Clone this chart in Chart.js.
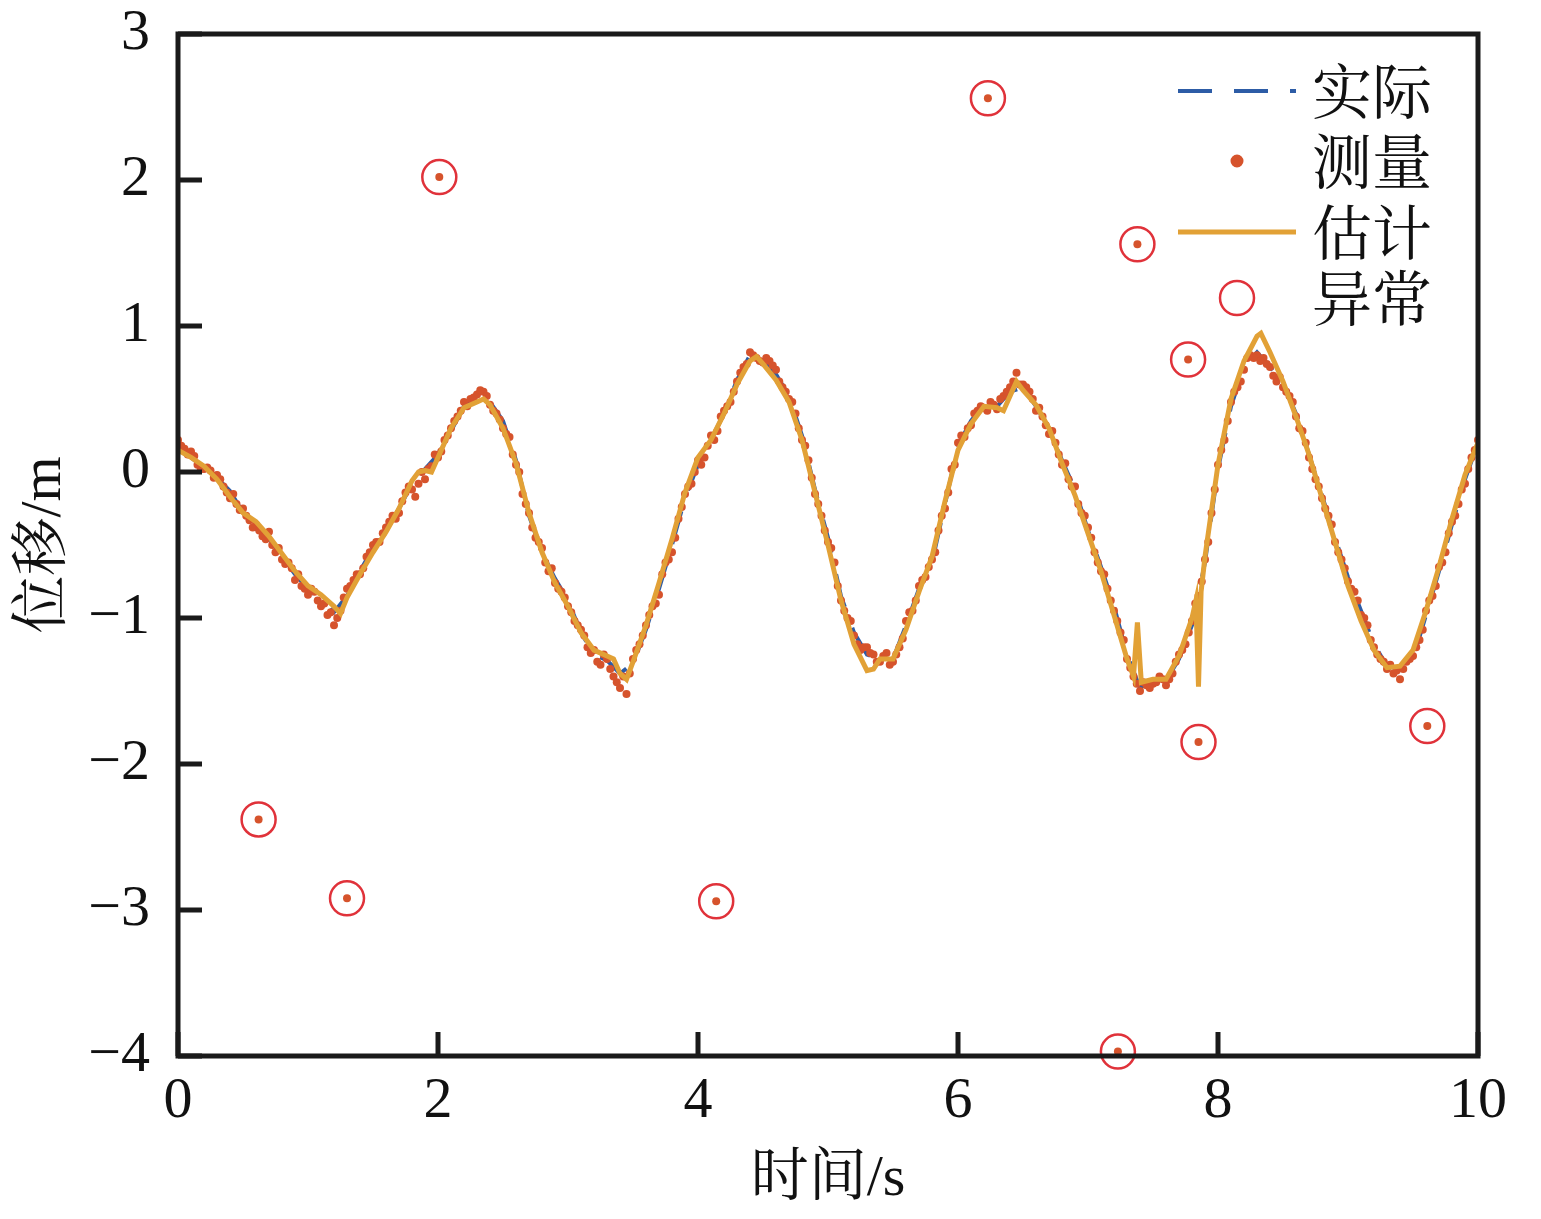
<!DOCTYPE html>
<html>
<head>
<meta charset="utf-8">
<script src="https://cdn.jsdelivr.net/npm/chart.js@4.4.0/dist/chart.umd.min.js"></script>
<style>
  body { margin: 0; background: #fff; }
  canvas { display: block; }
</style>
</head>
<body>
<canvas id="grafico" width="1541" height="1219"></canvas>
<script>
// 采样间隔 (s)
const pasoReal = 0.1;
const pasoMedida = 0.05;

// 实际位移, t = 0 .. 10 每 0.1 s
const real = [
  0.17, 0.10, 0.03, -0.04, -0.13, -0.28, -0.39, -0.45, -0.58, -0.70,
  -0.80, -0.88, -0.96, -0.85, -0.68, -0.52, -0.40, -0.25, -0.08, 0.02,
  0.12, 0.28, 0.45, 0.50, 0.48, 0.35, 0.08, -0.30, -0.55, -0.73,
  -0.88, -1.10, -1.25, -1.29, -1.38, -1.31, -1.08, -0.80, -0.50, -0.18,
  0.05, 0.22, 0.40, 0.63, 0.80, 0.77, 0.67, 0.52, 0.25, -0.12,
  -0.45, -0.85, -1.10, -1.25, -1.28, -1.28, -1.05, -0.80, -0.62, -0.22,
  0.18, 0.35, 0.46, 0.45, 0.55, 0.58, 0.45, 0.30, 0.08, -0.12,
  -0.40, -0.65, -0.92, -1.25, -1.48, -1.42, -1.43, -1.28, -1.05, -0.62,
  0.02, 0.45, 0.72, 0.82, 0.72, 0.61, 0.40, 0.12, -0.16, -0.45,
  -0.72, -0.95, -1.18, -1.33, -1.35, -1.28, -0.98, -0.68, -0.36, -0.05,
  0.20
];

// 测量值, t = 0 .. 10 每 0.05 s
const medida = [
  0.22, 0.16, 0.14, 0.05, 0.02, 0.01, -0.02, -0.10, -0.18, -0.22,
  -0.25, -0.33, -0.36, -0.44, -0.41, -0.55, -0.60, -0.62, -0.74, -0.78,
  -0.84, -0.82, -0.92, -0.98, -1.05, -0.95, -0.80, -0.74, -0.70, -0.58,
  -0.50, -0.48, -0.38, -0.30, -0.28, -0.14, -0.12, -0.08, -0.05, 0.04,
  0.10, 0.22, 0.30, 0.38, 0.48, 0.50, 0.53, 0.55, 0.46, 0.40,
  0.30, 0.24, 0.05, -0.15, -0.28, -0.45, -0.52, -0.68, -0.76, -0.82,
  -0.92, -1.02, -1.08, -1.20, -1.22, -1.32, -1.28, -1.40, -1.48, -1.52,
  -1.28, -1.18, -1.05, -0.92, -0.84, -0.62, -0.55, -0.32, -0.15, -0.08,
  0.08, 0.10, 0.25, 0.28, 0.42, 0.48, 0.62, 0.72, 0.82, 0.78,
  0.75, 0.76, 0.70, 0.58, 0.50, 0.40, 0.22, 0.08, -0.15, -0.30,
  -0.48, -0.62, -0.88, -1.00, -1.12, -1.22, -1.20, -1.25, -1.30, -1.24,
  -1.30, -1.20, -1.02, -0.95, -0.78, -0.72, -0.60, -0.40, -0.25, 0.02,
  0.20, 0.24, 0.32, 0.42, 0.44, 0.48, 0.43, 0.52, 0.58, 0.68,
  0.60, 0.55, 0.42, 0.38, 0.26, 0.20, 0.05, -0.05, -0.10, -0.28,
  -0.38, -0.55, -0.68, -0.80, -0.95, -1.10, -1.28, -1.40, -1.50, -1.46,
  -1.45, -1.40, -1.46, -1.38, -1.25, -1.18, -1.02, -0.85, -0.60, -0.28,
  0.05, 0.22, 0.48, 0.58, 0.70, 0.80, 0.80, 0.78, 0.72, 0.62,
  0.58, 0.52, 0.38, 0.28, 0.10, -0.05, -0.18, -0.30, -0.48, -0.60,
  -0.75, -0.82, -0.98, -1.05, -1.20, -1.28, -1.35, -1.38, -1.42, -1.30,
  -1.26, -1.15, -0.95, -0.85, -0.65, -0.55, -0.34, -0.22, -0.08, 0.10,
  0.22
];

// 测量值 (第二组), t = 0.025 .. 9.975 每 0.05 s
const medida2 = [
  0.18, 0.12, 0.11, 0.02, 0.03, -0.04, -0.05, -0.14, -0.15, -0.26,
  -0.30, -0.38, -0.40, -0.46, -0.50, -0.52, -0.63, -0.66, -0.70, -0.80,
  -0.80, -0.88, -0.90, -0.96, -1.00, -0.86, -0.78, -0.70, -0.66, -0.55,
  -0.48, -0.42, -0.34, -0.32, -0.20, -0.10, -0.17, 0.00, 0.02, 0.12,
  0.14, 0.25, 0.35, 0.42, 0.45, 0.51, 0.56, 0.52, 0.42, 0.36,
  0.26, 0.12, 0.00, -0.22, -0.38, -0.48, -0.62, -0.66, -0.80, -0.86,
  -0.96, -1.05, -1.12, -1.24, -1.30, -1.25, -1.35, -1.44, -1.40, -1.38,
  -1.22, -1.12, -0.98, -0.90, -0.70, -0.60, -0.45, -0.24, -0.10, 0.00,
  0.05, 0.18, 0.22, 0.38, 0.45, 0.55, 0.68, 0.74, 0.80, 0.76,
  0.78, 0.73, 0.62, 0.55, 0.48, 0.30, 0.18, -0.04, -0.22, -0.40,
  -0.52, -0.78, -0.95, -1.02, -1.18, -1.20, -1.24, -1.30, -1.26, -1.32,
  -1.25, -1.14, -0.96, -0.88, -0.74, -0.65, -0.55, -0.30, -0.14, 0.05,
  0.25, 0.30, 0.40, 0.45, 0.42, 0.46, 0.50, 0.55, 0.62, 0.60,
  0.58, 0.50, 0.44, 0.32, 0.28, 0.12, 0.06, -0.10, -0.22, -0.30,
  -0.45, -0.62, -0.70, -0.88, -1.02, -1.15, -1.34, -1.45, -1.44, -1.48,
  -1.44, -1.42, -1.42, -1.30, -1.22, -1.10, -0.90, -0.75, -0.48, -0.12,
  0.15, 0.35, 0.55, 0.62, 0.78, 0.78, 0.76, 0.74, 0.66, 0.65,
  0.55, 0.48, 0.30, 0.20, 0.02, -0.10, -0.25, -0.36, -0.55, -0.66,
  -0.80, -0.88, -1.00, -1.15, -1.25, -1.30, -1.32, -1.36, -1.35, -1.28,
  -1.20, -1.08, -0.88, -0.78, -0.62, -0.42, -0.30, -0.12, 0.02, 0.15
];

// 估计值 [t, y]
const estimado = [
  [0, 0.15], [0.1, 0.10], [0.2, 0.04], [0.3, -0.05], [0.4, -0.17], [0.5, -0.28],
  [0.6, -0.34], [0.7, -0.44], [0.8, -0.56], [0.9, -0.68], [1.0, -0.78], [1.1, -0.84],
  [1.2, -0.92], [1.25, -0.97], [1.3, -0.86], [1.4, -0.70], [1.5, -0.55], [1.6, -0.41],
  [1.7, -0.25], [1.8, -0.06], [1.85, 0.00], [1.9, 0.01], [1.95, 0.00], [2.0, 0.10],
  [2.1, 0.30], [2.2, 0.44], [2.3, 0.48], [2.35, 0.50], [2.4, 0.46], [2.5, 0.30],
  [2.6, 0.06], [2.7, -0.28], [2.8, -0.55], [2.9, -0.76], [3.0, -0.92], [3.1, -1.10],
  [3.2, -1.22], [3.3, -1.26], [3.35, -1.28], [3.4, -1.38], [3.45, -1.42], [3.5, -1.30],
  [3.6, -1.05], [3.7, -0.76], [3.8, -0.46], [3.9, -0.14], [4.0, 0.10], [4.1, 0.22],
  [4.2, 0.40], [4.3, 0.60], [4.4, 0.76], [4.45, 0.79], [4.5, 0.74], [4.6, 0.63],
  [4.7, 0.48], [4.8, 0.22], [4.9, -0.14], [5.0, -0.50], [5.1, -0.88], [5.2, -1.18],
  [5.3, -1.36], [5.35, -1.35], [5.4, -1.28], [5.5, -1.28], [5.6, -1.08], [5.7, -0.82],
  [5.8, -0.58], [5.9, -0.20], [6.0, 0.15], [6.1, 0.33], [6.2, 0.45], [6.3, 0.44],
  [6.35, 0.42], [6.45, 0.62], [6.5, 0.56], [6.6, 0.46], [6.7, 0.30], [6.8, 0.06],
  [6.9, -0.16], [7.0, -0.42], [7.1, -0.68], [7.2, -0.98], [7.3, -1.28], [7.35, -1.40],
  [7.38, -1.03], [7.41, -1.44], [7.5, -1.42], [7.6, -1.42], [7.7, -1.26], [7.8, -1.00],
  [7.83, -0.88], [7.85, -1.47], [7.87, -0.82], [7.9, -0.58], [8.0, 0.05], [8.1, 0.50],
  [8.2, 0.76], [8.3, 0.93], [8.33, 0.95], [8.4, 0.82], [8.5, 0.62], [8.6, 0.38],
  [8.7, 0.12], [8.8, -0.18], [8.9, -0.48], [9.0, -0.78], [9.1, -1.02], [9.2, -1.22],
  [9.3, -1.34], [9.4, -1.33], [9.5, -1.22], [9.6, -0.95], [9.7, -0.65], [9.8, -0.32],
  [9.9, -0.02], [10.0, 0.20]
];

// 异常点
const anomT = [0.62, 1.30, 2.01, 4.14, 6.23, 7.23, 7.38, 7.77, 7.85, 9.61];
const anomY = [-2.38, -2.92, 2.02, -2.94, 2.56, -3.97, 1.56, 0.77, -1.85, -1.74];

const xTicks = [0, 2, 4, 6, 8, 10];
const yTicks = [-4, -3, -2, -1, 0, 1, 2, 3];

const fuenteNum = "'Liberation Serif', 'Times New Roman', serif";
const fuenteCJK = "'Liberation Serif', 'Noto Serif CJK SC', 'Noto Sans CJK SC', serif";

const datosReal = real.map((y, i) => ({ x: +(i * pasoReal).toFixed(2), y }));
const datosAnom = anomT.map((t, i) => ({ x: t, y: anomY[i] }));
const datosMedida = medida.map((y, i) => ({ x: +(i * pasoMedida).toFixed(3), y }))
  .concat(medida2.map((y, i) => ({ x: +(pasoMedida / 2 + i * pasoMedida).toFixed(3), y })))
  .concat(datosAnom);
const datosEst = estimado.map(p => ({ x: p[0], y: p[1] }));

// marco, ticks hacia dentro y leyenda
const marco = {
  id: 'marco',
  afterDatasetsDraw(chart) {
    const { ctx, chartArea: a, scales: { x, y } } = chart;
    ctx.save();
    ctx.strokeStyle = '#1a1a1a';
    ctx.lineWidth = 5;
    ctx.strokeRect(a.left, a.top, a.right - a.left, a.bottom - a.top);
    ctx.beginPath();
    x.ticks.forEach(t => {
      const px = x.getPixelForValue(t.value);
      ctx.moveTo(px, a.bottom);
      ctx.lineTo(px, a.bottom - 24);
    });
    y.ticks.forEach(t => {
      const py = y.getPixelForValue(t.value);
      ctx.moveTo(a.left, py);
      ctx.lineTo(a.left + 24, py);
    });
    ctx.stroke();

    // leyenda
    const filas = [91, 161, 232, 298];
    const x0 = 1178, x1 = 1296, xt = 1312;
    ctx.font = "60px 'Noto Serif CJK SC', 'Noto Sans CJK SC', sans-serif";
    ctx.textBaseline = 'middle';
    ctx.fillStyle = '#111';
    chart.data.datasets.forEach((ds, i) => {
      const yy = filas[i];
      ctx.save();
      if (ds.showLine !== false) {
        ctx.strokeStyle = ds.borderColor;
        ctx.lineWidth = ds.borderWidth;
        ctx.setLineDash(ds.borderDash || []);
        ctx.beginPath();
        ctx.moveTo(x0, yy);
        ctx.lineTo(x1, yy);
        ctx.stroke();
      } else {
        ctx.beginPath();
        ctx.arc((x0 + x1) / 2, yy, ds.pointRadius, 0, Math.PI * 2);
        if (ds.pointBackgroundColor !== 'transparent') {
          ctx.fillStyle = ds.pointBackgroundColor;
          ctx.fill();
        }
        ctx.strokeStyle = ds.pointBorderColor;
        ctx.lineWidth = ds.pointBorderWidth;
        ctx.stroke();
      }
      ctx.restore();
      ctx.fillText(ds.label, xt, yy);
    });
    ctx.restore();
  }
};

new Chart(document.getElementById('grafico'), {
  type: 'scatter',
  data: {
    datasets: [
      {
        label: '实际',
        data: datosReal,
        showLine: true,
        borderColor: '#2d5ca6',
        borderWidth: 4,
        borderDash: [34, 22],
        pointRadius: 0,
        tension: 0,
        order: 4
      },
      {
        label: '测量',
        data: datosMedida,
        showLine: false,
        pointRadius: 4,
        pointBackgroundColor: '#d6532c',
        pointBorderColor: '#d6532c',
        pointBorderWidth: 0,
        order: 3
      },
      {
        label: '估计',
        data: datosEst,
        showLine: true,
        borderColor: '#e2a136',
        borderWidth: 5,
        pointRadius: 0,
        tension: 0,
        order: 2
      },
      {
        label: '异常',
        data: datosAnom,
        showLine: false,
        pointRadius: 17,
        pointBackgroundColor: 'transparent',
        pointBorderColor: '#e0323a',
        pointBorderWidth: 2.5,
        clip: false,
        order: 1
      }
    ]
  },
  options: {
    responsive: false,
    animation: false,
    devicePixelRatio: 1,
    layout: { padding: { left: 0, right: 63, top: 34, bottom: 0 } },
    plugins: { legend: { display: false }, tooltip: { enabled: false } },
    scales: {
      x: {
        type: 'linear',
        min: 0,
        max: 10,
        afterFit: s => { s.height = 163; s.paddingLeft = 0; s.paddingRight = 0; },
        afterBuildTicks: s => { s.ticks = xTicks.map(v => ({ value: v })); },
        grid: { display: false },
        border: { display: false },
        ticks: {
          color: '#111',
          padding: 3,
          maxRotation: 0,
          font: { family: fuenteNum, size: 58 },
          callback: v => String(v).replace('-', '\u2212')
        },
        title: {
          display: true,
          text: '时间/s',
          color: '#111',
          font: { family: fuenteCJK, size: 58, lineHeight: 1 },
          padding: { top: 0, bottom: 10 }
        }
      },
      y: {
        type: 'linear',
        min: -4,
        max: 3,
        afterFit: s => { s.width = 178; s.paddingTop = 0; s.paddingBottom = 0; },
        afterBuildTicks: s => { s.ticks = yTicks.map(v => ({ value: v })); },
        grid: { display: false },
        border: { display: false },
        ticks: {
          color: '#111',
          padding: 20,
          font: { family: fuenteNum, size: 58 },
          callback: v => String(v).replace('-', '\u2212')
        },
        title: {
          display: true,
          text: '位移/m',
          color: '#111',
          font: { family: fuenteCJK, size: 58, lineHeight: 1 },
          padding: { top: 16, bottom: 0 }
        }
      }
    }
  },
  plugins: [marco]
});
</script>
</body>
</html>
